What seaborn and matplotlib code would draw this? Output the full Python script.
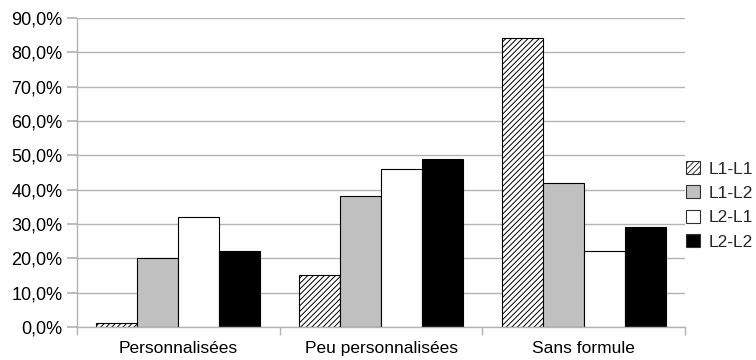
import matplotlib
matplotlib.use("Agg")
import matplotlib.pyplot as plt
import matplotlib.ticker as mticker
from matplotlib.patches import Patch
import seaborn as sns
import pandas as pd

categories = ["Personnalisées", "Peu personnalisées", "Sans formule"]
series = ["L1-L1", "L1-L2", "L2-L1", "L2-L2"]
values = {
    "L1-L1": [1.0, 15.0, 84.2],
    "L1-L2": [20.0, 38.0, 42.0],
    "L2-L1": [32.0, 46.0, 22.2],
    "L2-L2": [22.0, 49.0, 29.2],
}
fills = {"L1-L1": "white", "L1-L2": "#c0c0c0", "L2-L1": "white", "L2-L2": "black"}
hatches = {"L1-L1": "//////", "L1-L2": "", "L2-L1": "", "L2-L2": ""}

rows = [(c, s, values[s][i]) for s in series for i, c in enumerate(categories)]
df = pd.DataFrame(rows, columns=["cat", "serie", "val"])

sns.set_theme(style="white")
plt.rcParams["font.family"] = ["Liberation Sans", "DejaVu Sans"]
plt.rcParams["hatch.color"] = "#555555"
plt.rcParams["hatch.linewidth"] = 0.7

fig = plt.figure(figsize=(7.56, 3.6), dpi=100)
ax = fig.add_axes([0.102, 0.092, 0.804, 0.858])

sns.barplot(data=df, x="cat", y="val", hue="serie", order=categories,
            hue_order=series, palette=fills, width=0.81, saturation=1,
            edgecolor="black", linewidth=0.8, legend=False, ax=ax)

for cont, s in zip(ax.containers, series):
    for bar in cont:
        bar.set_hatch(hatches[s])

ax.set_ylim(0, 90)
ax.set_xlim(-0.5, 2.5)
ax.yaxis.set_major_locator(mticker.MultipleLocator(10))
ax.yaxis.set_major_formatter(mticker.FuncFormatter(lambda v, p: f"{v:.1f}%".replace(".", ",")))
ax.yaxis.grid(True, color="#b3b3b3", linewidth=1)
ax.set_axisbelow(True)
ax.set_xlabel("")
ax.set_ylabel("")

for side in ["top", "right"]:
    ax.spines[side].set_visible(False)
for side in ["left", "bottom"]:
    ax.spines[side].set_color("#b3b3b3")
    ax.spines[side].set_linewidth(1)

ax.tick_params(axis="y", left=True, length=7, color="#b3b3b3", labelsize=13, pad=3.5, labelcolor="black")
ax.tick_params(axis="x", bottom=False, labelsize=12.5, pad=4, labelcolor="black")
# boundary ticks between groups
ax.set_xticks([-0.5, 0.5, 1.5, 2.5], minor=True)
ax.tick_params(axis="x", which="minor", bottom=True, length=6, color="#b3b3b3")

handles = [Patch(facecolor=fills[s], edgecolor="#333333", hatch=hatches[s], linewidth=0.8, label=s)
           for s in series]
fig.legend(handles=handles, loc="center left", bbox_to_anchor=(0.908, 0.43), frameon=False,
           fontsize=12.5, handlelength=0.8, handleheight=0.8, handletextpad=0.45,
           labelspacing=0.5, borderaxespad=0, borderpad=0)

fig.savefig("out.png", dpi=100)
